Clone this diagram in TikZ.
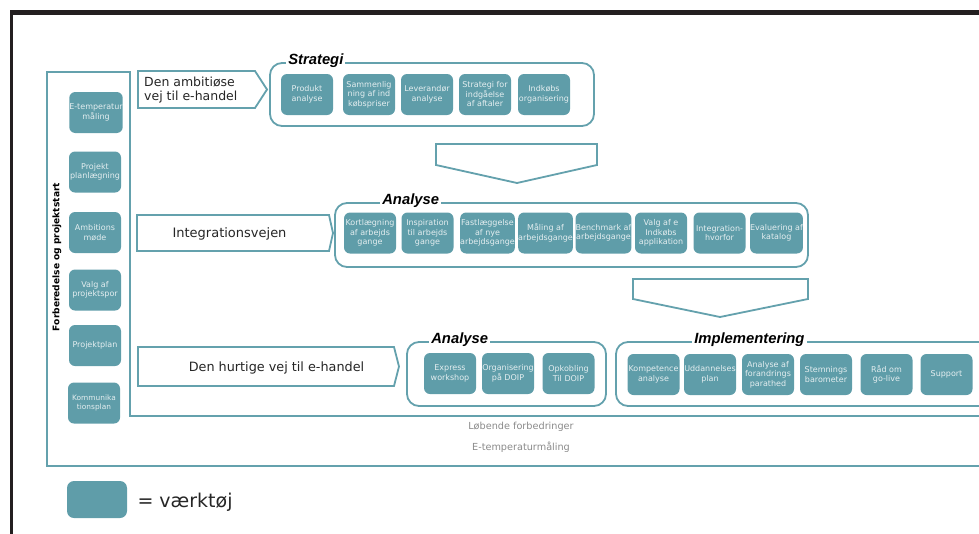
\documentclass[tikz,border=0pt]{standalone}
\usepackage{fontspec}
\setmainfont{DejaVu Sans}
\newfontfamily\labelfont{Liberation Sans}
\definecolor{toolfill}{HTML}{5F9DA9}
\definecolor{tealline}{HTML}{64A1AD}
\definecolor{tooltext}{HTML}{E4EEF0}
\definecolor{framek}{HTML}{231F20}
\definecolor{softgray}{HTML}{8A8A8A}
\begin{document}
\begin{tikzpicture}[x=1pt,y=-1pt,
  tool/.style={rectangle, rounded corners=6pt, fill=toolfill, text=tooltext,
    minimum width=52pt, minimum height=41pt, inner sep=0pt, align=center,
    font=\fontsize{8}{9.5}\selectfont},
  grp/.style={draw=tealline, line width=1.8pt, rounded corners=12pt,
    inner sep=0pt, fill=none},
  glabel/.style={fill=white, inner xsep=2pt, inner ysep=1pt,
    font=\labelfont\bfseries\itshape\fontsize{14.8}{16}\selectfont},
  pathbox/.style={draw=tealline, line width=1.8pt, fill=white, line join=miter},
  bigtext/.style={font=\fontsize{12.8}{14}\selectfont, text=black!85},
  graytext/.style={text=softgray, font=\fontsize{9.7}{11}\selectfont},
  frameline/.style={draw=tealline, line width=1.8pt}]

\useasboundingbox (0,0) rectangle (979,533);
\clip (0,0) rectangle (979,533);

% black page frame
\fill[framek] (10,10) rectangle (985,15);
\fill[framek] (10,10) rectangle (13,540);

% outer teal frame: left panel and bottom band
\draw[frameline] (985,466) -- (47,466) -- (47,72) -- (130,72) -- (130,416) -- (985,416);
\node[rotate=90, font=\bfseries\fontsize{9.1}{10}\selectfont] (prep) at (57,257) {Forberedelse og projektstart};
\node[graytext] (lob) at (521,427) {Løbende forbedringer};
\node[graytext] (etemp) at (521,447) {E-temperaturmåling};

% preparation tools
\node[tool] (p1) at (96,112.5) {E-temperatur\\måling};
\node[tool] (p2) at (95,172) {Projekt\\planlægning};
\node[tool] (p3) at (95,232.5) {Ambitions\\møde};
\node[tool] (p4) at (95,290) {Valg af\\projektspor};
\node[tool] (p5) at (95,345.5) {Projektplan};
\node[tool, font=\fontsize{7.4}{9}\selectfont] (p6) at (94,403) {Kommunika\\tionsplan};

% track 1: the ambitious way
\draw[pathbox] (138,71) -- (255,71) -- (267,89.5) -- (255,108) -- (138,108) -- cycle;
\node[font=\fontsize{12.5}{14}\selectfont, text=black!85, anchor=west, align=left, inner sep=0pt] (amb) at (144,90) {Den ambitiøse\\vej til e-handel};

\node[grp, minimum width=324pt, minimum height=63pt] (gstrat) at (432,94.5) {};
\node[glabel, anchor=west] (lstrat) at ([xshift=17pt,yshift=1.5pt]gstrat.north west) {Strategi};
\node[tool] (s1) at (307,94.5) {Produkt\\analyse};
\node[tool] (s2) at (369,94.5) {Sammenlig\\ning af ind\\købspriser};
\node[tool] (s3) at (427,94.5) {Leverandør\\analyse};
\node[tool] (s4) at (485,94.5) {Strategi for\\indgåelse\\af aftaler};
\node[tool] (s5) at (544,94.5) {Indkøbs\\organisering};

\draw[pathbox] (436,144) -- (597,144) -- (597,165) -- (517,183) -- (436,165) -- cycle;

% track 2: integration
\draw[pathbox] (137,215) -- (329,215) -- (333,233) -- (329,251) -- (137,251) -- cycle;
\node[font=\fontsize{13}{14}\selectfont, text=black!85] (integ) at (229.5,234) {Integrationsvejen};

\node[grp, minimum width=473pt, minimum height=64pt] (gana) at (571.5,235) {};
\node[glabel, anchor=west] (lana) at ([xshift=46pt,yshift=1.5pt]gana.north west) {Analyse};
\node[tool] (a1) at (370,233) {Kortlægning\\af arbejds\\gange};
\node[tool] (a2) at (427.5,233) {Inspiration\\til arbejds\\gange};
\node[tool] (a3) at (487.5,233) {Fastlæggelse\\af nye\\arbejdsgange};
\node[tool] (a4) at (545.5,233) {Måling af\\arbejdsgange};
\node[tool] (a5) at (603.5,233) {Benchmark af\\arbejdsgange};
\node[tool] (a6) at (661,233) {Valg af e\\Indkøbs\\applikation};
\node[tool] (a7) at (719.5,233) {Integration-\\hvorfor};
\node[tool] (a8) at (776.5,233) {Evaluering af\\katalog};

\draw[pathbox] (633,279) -- (808,279) -- (808,299) -- (720,317) -- (633,299) -- cycle;

% track 3: the fast way
\draw[pathbox] (138,347) -- (394,347) -- (399,366.5) -- (394,386) -- (138,386) -- cycle;
\node[bigtext] (fast) at (276.5,367.5) {Den hurtige vej til e-handel};

\node[grp, minimum width=199pt, minimum height=64pt] (gfast) at (506.5,374) {};
\node[glabel, anchor=west] (lfast) at ([xshift=23pt,yshift=1.5pt]gfast.north west) {Analyse};
\node[tool] (f1) at (450,373.5) {Express\\workshop};
\node[tool] (f2) at (508,373.5) {Organisering\\på DOIP};
\node[tool] (f3) at (568.5,373.5) {Opkobling\\Til DOIP};

\node[grp, minimum width=384pt, minimum height=64pt] (gimpl) at (808,374) {};
\node[glabel, anchor=west] (limpl) at ([xshift=77pt,yshift=1.5pt]gimpl.north west) {Implementering};
\node[tool] (i1) at (653.5,374.5) {Kompetence\\analyse};
\node[tool] (i2) at (710,374.5) {Uddannelses\\plan};
\node[tool] (i3) at (768,374.5) {Analyse af\\forandrings\\parathed};
\node[tool] (i4) at (826,374.5) {Stemnings\\barometer};
\node[tool] (i5) at (886.5,374.5) {Råd om\\go-live};
\node[tool] (i6) at (946.5,374.5) {Support};

% legend
\node[tool, minimum width=60pt, minimum height=37pt, rounded corners=7pt] (legbox) at (97,499.5) {};
\node[anchor=west, font=\fontsize{19}{21}\selectfont, text=black!85] (legtxt) at (134,502) {= værktøj};

\end{tikzpicture}
\end{document}
